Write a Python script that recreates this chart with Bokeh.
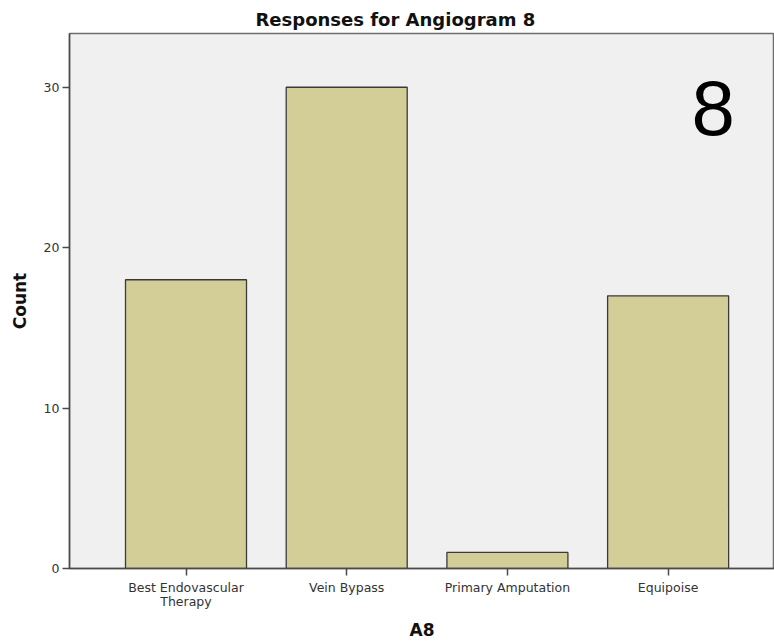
from bokeh.plotting import figure
from bokeh.models import Range1d, FixedTicker, Label
from bokeh.embed import file_html
from bokeh.resources import INLINE

categories = ["Best Endovascular\nTherapy", "Vein Bypass", "Primary Amputation", "Equipoise"]
counts = [18, 30, 1, 17]
y_ticks = [0, 10, 20, 30]

positions = list(range(1, len(categories) + 1))

p = figure(width=774, height=642, output_backend="svg", toolbar_location=None,
           x_range=Range1d(0.275, 4.662), y_range=Range1d(0, 33.35),
           min_border_left=69, min_border_right=0, min_border_top=33, min_border_bottom=73)

p.background_fill_color = "#F0F0F0"
p.border_fill_color = "white"
p.outline_line_color = "#6E6E6E"
p.outline_line_width = 1.5

p.vbar(x=positions, top=counts, width=0.753, bottom=0,
       fill_color="#D3CE97", line_color="#3A3A3A", line_width=1.3)

p.title.text = "Responses for Angiogram 8"
p.title.text_font = "DejaVu Sans"
p.title.text_font_size = "18px"
p.title.text_font_style = "bold"
p.title.align = "left"
p.title.offset = 186
p.title.standoff = 7
p.title.text_color = "#111111"

p.xgrid.visible = False
p.ygrid.visible = False

p.xaxis.ticker = FixedTicker(ticks=positions)
p.xaxis.major_label_overrides = {pos: lab for pos, lab in zip(positions, categories)}
p.yaxis.ticker = FixedTicker(ticks=y_ticks)

for ax in (p.xaxis[0], p.yaxis[0]):
    ax.axis_line_color = "#4A4A4A"
    ax.axis_line_width = 1.5
    ax.major_tick_line_color = "#4A4A4A"
    ax.major_tick_line_width = 1.5
    ax.major_tick_out = 7
    ax.major_tick_in = 0
    ax.minor_tick_line_color = None
    ax.major_label_text_font = "DejaVu Sans"
    ax.major_label_text_font_size = "12.5px"
    ax.major_label_text_color = "#333333"
    ax.major_label_text_line_height = 0.95
    ax.axis_label_text_font = "DejaVu Sans"
    ax.axis_label_text_font_size = "17px"
    ax.axis_label_text_font_style = "bold"
    ax.axis_label_text_color = "#111111"

p.xaxis.axis_label = "A8"
p.yaxis.axis_label = "Count"
p.xaxis.major_label_standoff = 4
p.xaxis.axis_label_standoff = 8
p.yaxis.major_label_standoff = 3
p.yaxis.axis_label_standoff = 11

p.add_layout(Label(x=4.28, y=28.7, text="8", text_font="Liberation Sans",
                   text_font_size="78px", text_align="center",
                   text_baseline="alphabetic", text_color="black"))

open("out.html", "w").write(file_html(p, INLINE))
